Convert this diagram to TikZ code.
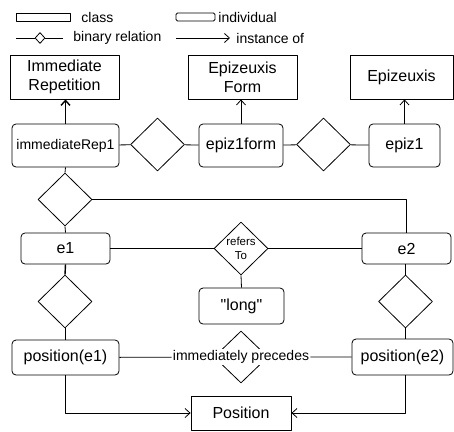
\documentclass[tikz,border=0pt]{standalone}
\usepackage{fontspec}
\setmainfont{Liberation Sans}
\newfontfamily\plainfont{Liberation Sans}
\usetikzlibrary{shapes.geometric,arrows.meta}

\begin{document}
\begin{tikzpicture}[x=1pt,y=-1pt,>={Straight Barb[length=5pt,width=9pt]}, font=\fontsize{16}{19}\selectfont, line join=round, line width=0.8pt,
	cls/.style={draw, rectangle, inner sep=0pt, align=center},
	ind/.style={draw, rectangle, rounded corners=4pt, inner sep=0pt},
	rel/.style={draw, diamond, inner sep=0pt, minimum width=54pt, minimum height=53pt},
	small/.style={font=\fontsize{14}{16}\selectfont},
	txt/.style={small, anchor=west, inner sep=0pt}]
				\useasboundingbox (0,0) rectangle (454,431);
				% legend
				\node[cls, minimum width=54pt, minimum height=8pt] (lgcls) at (43,17) {};
				\node[txt] (lgclstxt) at (81,17) {class};
				\node[ind, rounded corners=1.5pt, minimum width=39pt, minimum height=8pt] (lgind) at (195.5,17) {};
				\node[txt] (lgindtxt) at (218,17) {individual};
				\node[draw, diamond, inner sep=0pt, minimum width=10pt, minimum height=11pt] (lgrel) at (40,38) {};
				\coordinate (lgrelL) at (16,38); \coordinate (lgrelR) at (63,38);
				\draw (lgrelL) -- (lgrel) -- (lgrelR);
				\node[txt] (lgreltxt) at (73,38) {binary relation};
				\coordinate (lgarrA) at (176,38); \coordinate (lgarrB) at (230,38);
				\draw[->] (lgarrA) -- (lgarrB);
				\node[txt] (lgarrtxt) at (236,38) {instance of};
				% classes
				\node[cls, minimum width=109pt, minimum height=44pt] (immrepcls) at (64.5,77) {Immediate\\Repetition};
				\node[cls, minimum width=109pt, minimum height=44pt] (epizformcls) at (242.5,77) {Epizeuxis\\Form};
				\node[cls, minimum width=103pt, minimum height=44pt] (epizcls) at (401.5,77) {Epizeuxis};
				% individuals and relations
				\node[ind, small, minimum width=107pt, minimum height=43pt] (immrep) at (65.5,145.5) {immediateRep1};
				\node[rel] (relA) at (157.5,144.5) {};
				\node[ind, minimum width=84pt, minimum height=43pt] (epizform) at (241,145.5) {epiz1form};
				\node[rel] (relB) at (323.5,144.5) {};
				\node[ind, minimum width=71pt, minimum height=43pt] (epiz) at (404.5,145.5) {epiz1};
				\draw (immrep) -- (relA) -- (epizform) -- (relB) -- (epiz);
				\draw[->, line width=1.4pt] (immrep.north) -- (immrep.north |- immrepcls.south);
				\draw[->] (epizform.north) -- (epizform.north |- epizformcls.south);
				\draw[->] (epiz.north) -- (epiz.north |- epizcls.south);
				\node[rel] (relC) at (65,199.5) {};
				\node[ind, minimum width=89pt, minimum height=31pt] (ea) at (65.5,248.5) {e1};
				\node[ind, minimum width=89pt, minimum height=31pt] (eb) at (406.5,248.5) {e2};
				\draw (immrep.south) -- (relC.north);
				\draw (relC.south) -- (ea.north);
				\draw (relC.east) -| (eb.north);
				\node[rel, label={[font=\fontsize{11.5}{14}\selectfont, align=center]center:refers\\To}] (refto) at (241,248.5) {};
				\draw (ea) -- (refto) -- (eb);
				\node[ind, minimum width=85pt, minimum height=36pt] (long) at (241.5,306) {\plainfont"long"};
				\draw (refto.south) -- (long.north);
				\node[rel] (relD) at (65,301.5) {};
				\node[rel] (relE) at (405.5,301.5) {};
				\draw[line width=1.4pt] (ea.south) -- (relD.north);
				\draw (eb.south -| relE.north) -- (relE.north);
				\node[ind, minimum width=107pt, minimum height=35pt] (posa) at (65.5,357.5) {position(e1)};
				\node[ind, minimum width=101pt, minimum height=36pt] (posb) at (402.5,357) {position(e2)};
				\draw (relD.south) -- (posa.north -| relD.south);
				\draw (relE.south) -- (posb.north -| relE.south);
				\node[rel, minimum height=52pt] (imprec) at (241,357) {};
				\node[small, fill=white, inner sep=1pt] (imprectxt) at (241,357) {immediately precedes};
				\draw (posa) -- (imprectxt) -- (posb);
				\node[cls, minimum width=100pt, minimum height=34pt] (pos) at (241,413) {Position};
				\draw[->] (posa.south -| relD.south) |- (pos.west);
				\draw[->] (posb.south -| relE.south) |- (pos.east);
			\end{tikzpicture}
\end{document}
